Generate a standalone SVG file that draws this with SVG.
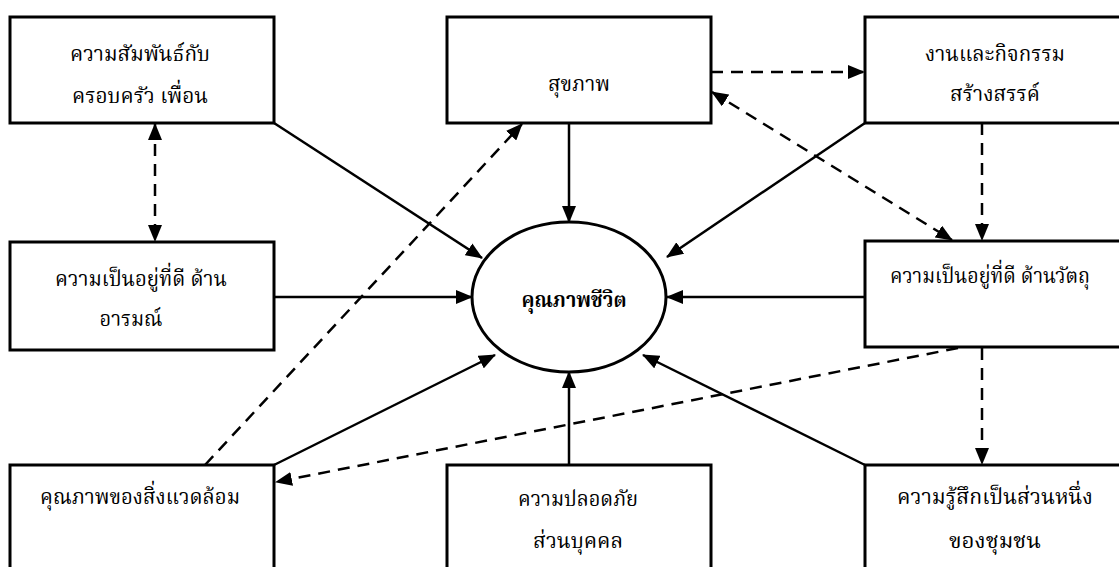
<svg xmlns="http://www.w3.org/2000/svg" width="1119" height="567" viewBox="0 0 1119 567">
<style>
.box{fill:#fff;stroke:#000;stroke-width:3}
.t{font-family:"Noto Serif Thai","Noto Sans Thai","Noto Sans","DejaVu Sans",sans-serif;font-size:22px;fill:#000;text-anchor:middle}
.b{font-weight:bold}
.c{fill:none;stroke:#000;stroke-width:2.5}
.d{stroke-dasharray:12 8}
.a{marker-end:url(#ah)}
.aa{marker-start:url(#ah);marker-end:url(#ah)}
</style>
<defs>
<marker id="ah" markerUnits="userSpaceOnUse" markerWidth="18" markerHeight="14" refX="16" refY="7" orient="auto-start-reverse" viewBox="0 0 18 14">
<path d="M0,0 L17,7 L0,14 z" fill="#000"/>
</marker>
</defs>
<rect width="1119" height="567" fill="#fff"/>
<g id="connectors">
<line class="c a" x1="274" y1="123" x2="482" y2="258"/>
<line class="c a" x1="569" y1="123" x2="569" y2="222"/>
<line class="c a" x1="865" y1="123" x2="667" y2="257"/>
<line class="c a" x1="274" y1="297" x2="472" y2="297"/>
<line class="c a" x1="865" y1="297" x2="667" y2="297"/>
<line class="c a" x1="274" y1="465" x2="495" y2="355"/>
<line class="c a" x1="569" y1="465" x2="569" y2="372"/>
<line class="c a" x1="865" y1="465" x2="643" y2="355"/>
<line class="c d aa" x1="155" y1="124" x2="155" y2="241"/>
<line class="c d a" x1="711" y1="72" x2="864" y2="72"/>
<line class="c d aa" x1="712" y1="92" x2="952" y2="240"/>
<line class="c d a" x1="982" y1="123" x2="982" y2="240"/>
<line class="c d a" x1="205" y1="465" x2="522" y2="124"/>
<line class="c d a" x1="958" y1="348" x2="276" y2="482"/>
<line class="c d a" x1="982" y1="348" x2="982" y2="464"/>
</g>
<g id="n1"><rect class="box" x="10" y="17" width="264" height="106"/>
<text class="t" x="140" y="61" textLength="140" lengthAdjust="spacingAndGlyphs">ความสัมพันธ์กับ</text>
<text class="t" x="140" y="103" textLength="136" lengthAdjust="spacingAndGlyphs">ครอบครัว เพื่อน</text></g>
<g id="n2"><rect class="box" x="447" y="17" width="264" height="106"/>
<text class="t" x="579" y="91" textLength="62" lengthAdjust="spacingAndGlyphs">สุขภาพ</text></g>
<g id="n3"><rect class="box" x="865" y="17" width="256" height="106"/>
<text class="t" x="995" y="61" textLength="140" lengthAdjust="spacingAndGlyphs">งานและกิจกรรม</text>
<text class="t" x="995" y="101" textLength="90" lengthAdjust="spacingAndGlyphs">สร้างสรรค์</text></g>
<g id="n4"><rect class="box" x="10" y="242" width="264" height="108"/>
<text class="t" x="141" y="286" textLength="172" lengthAdjust="spacingAndGlyphs">ความเป็นอยู่ที่ดี ด้าน</text>
<text class="t" x="131" y="326" textLength="63" lengthAdjust="spacingAndGlyphs">อารมณ์</text></g>
<g id="n5"><rect class="box" x="865" y="241" width="256" height="106"/>
<text class="t" x="990" y="283" textLength="200" lengthAdjust="spacingAndGlyphs">ความเป็นอยู่ที่ดี ด้านวัตถุ</text></g>
<g id="center"><ellipse cx="569" cy="297" rx="97" ry="75" fill="#fff" stroke="#000" stroke-width="3"/>
<text class="t b" x="574" y="307" textLength="105" lengthAdjust="spacingAndGlyphs">คุณภาพชีวิต</text></g>
<g id="n7"><rect class="box" x="10" y="465" width="264" height="104"/>
<text class="t" x="140" y="504" textLength="200" lengthAdjust="spacingAndGlyphs">คุณภาพของสิ่งแวดล้อม</text></g>
<g id="n8"><rect class="box" x="447" y="465" width="264" height="104"/>
<text class="t" x="578" y="506" textLength="120" lengthAdjust="spacingAndGlyphs">ความปลอดภัย</text>
<text class="t" x="578" y="548" textLength="90" lengthAdjust="spacingAndGlyphs">ส่วนบุคคล</text></g>
<g id="n9"><rect class="box" x="865" y="465" width="256" height="104"/>
<text class="t" x="995" y="504" textLength="196" lengthAdjust="spacingAndGlyphs">ความรู้สึกเป็นส่วนหนึ่ง</text>
<text class="t" x="995" y="548" textLength="92" lengthAdjust="spacingAndGlyphs">ของชุมชน</text></g>
</svg>
